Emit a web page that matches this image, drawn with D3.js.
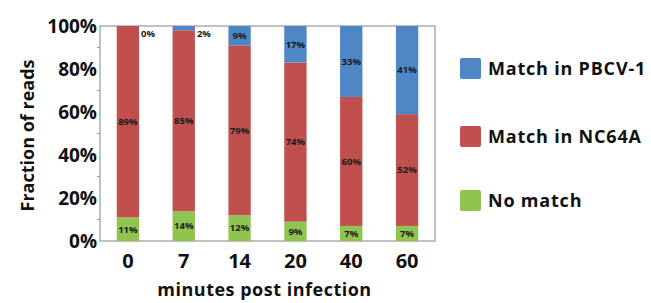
<!DOCTYPE html>
<html>
<head>
<meta charset="utf-8">
<script src="https://cdn.jsdelivr.net/npm/d3@7"></script>
<style>
  body { margin: 0; background: #fff; }
  text { font-family: "Open Sans", "DejaVu Sans", sans-serif; font-weight: bold; }
</style>
</head>
<body>
<div id="chart"></div>
<script>
// minutes post infection
var minutes = ["0", "7", "14", "20", "40", "60"];
var noMatch = [11, 14, 12, 9, 7, 7];
var matchNC64A = [89, 85, 79, 74, 60, 52];
var matchPBCV = [0, 2, 9, 17, 33, 41];
var yTicks = [0, 20, 40, 60, 80, 100];

var seriesNames = ["No match", "Match in NC64A", "Match in PBCV-1"];
var seriesKeys = ["none", "nc64a", "pbcv"];
var colors = { none: "#8fc450", nc64a: "#c0504d", pbcv: "#4f86c6" };

var width = 651, height = 303;
var margin = { left: 100, top: 26, right: 216, bottom: 62 };
var innerW = width - margin.left - margin.right;
var innerH = height - margin.top - margin.bottom;

var rows = minutes.map(function (m, i) {
    return { minute: m, none: noMatch[i], nc64a: matchNC64A[i], pbcv: matchPBCV[i] };
});

var stacked = d3.stack().keys(seriesKeys).offset(d3.stackOffsetExpand)(rows);

var svg = d3.select("#chart").append("svg")
    .attr("width", width)
    .attr("height", height);

var g = svg.append("g")
    .attr("transform", "translate(" + margin.left + "," + margin.top + ")");

var x = d3.scaleBand().domain(minutes).range([0, innerW]).paddingInner(0.6).paddingOuter(0.3);
var y = d3.scaleLinear().domain([0, 1]).range([innerH, 0]);

// plot frame
g.append("rect")
    .attr("width", innerW)
    .attr("height", innerH)
    .attr("fill", "none")
    .attr("stroke", "#9a9a9a")
    .attr("stroke-width", 1.2);

// minor ticks every 10%
g.selectAll(".minor")
    .data(d3.range(0.1, 1, 0.2))
    .enter().append("line")
    .attr("x1", -3).attr("x2", 0)
    .attr("y1", function (d) { return y(d); })
    .attr("y2", function (d) { return y(d); })
    .attr("stroke", "#9a9a9a");

var layers = g.selectAll(".layer")
    .data(stacked)
    .enter().append("g")
    .attr("fill", function (d) { return colors[d.key]; });

layers.selectAll("rect")
    .data(function (d) { return d; })
    .enter().append("rect")
    .attr("x", function (d) { return x(d.data.minute); })
    .attr("width", x.bandwidth())
    .attr("y", function (d) { return y(d[1]); })
    .attr("height", function (d) { return y(d[0]) - y(d[1]); });

// value labels
stacked.forEach(function (layer) {
    layer.forEach(function (d) {
        var v = d.data[layer.key];
        var small = (d[1] - d[0]) < 0.05;
        g.append("text")
            .attr("x", small ? x(d.data.minute) + x.bandwidth() + 2 : x(d.data.minute) + x.bandwidth() / 2)
            .attr("y", small ? y(1) + 8 : y((d[0] + d[1]) / 2))
            .attr("dy", "0.35em")
            .attr("text-anchor", small ? "start" : "middle")
            .attr("font-size", 9.5)
            .attr("fill", "#1a1a1a")
            .text(v + "%");
    });
});

// y axis labels
g.selectAll(".ytick")
    .data(yTicks)
    .enter().append("text")
    .attr("x", -3)
    .attr("y", function (d) { return y(d / 100); })
    .attr("dy", "0.36em")
    .attr("text-anchor", "end")
    .attr("font-size", 19)
    .attr("fill", "#111")
    .text(function (d) { return d + "%"; });

// x axis labels
g.selectAll(".xtick")
    .data(minutes)
    .enter().append("text")
    .attr("x", function (d) { return x(d) + x.bandwidth() / 2; })
    .attr("y", innerH + 27)
    .attr("text-anchor", "middle")
    .attr("font-size", 20)
    .attr("fill", "#111")
    .text(function (d) { return d; });

svg.append("text")
    .attr("transform", "translate(34," + (margin.top + innerH / 2 + 2) + ") rotate(-90)")
    .attr("text-anchor", "middle")
    .attr("font-size", 18)
    .attr("fill", "#111")
    .text("Fraction of reads");

svg.append("text")
    .attr("x", margin.left + innerW / 2 - 3)
    .attr("y", 296)
    .attr("text-anchor", "middle")
    .attr("font-size", 18)
    .attr("letter-spacing", 0.5)
    .attr("fill", "#111")
    .text("minutes post infection");

// legend, top to bottom
var legendY = [58, 126, 190];
var legendKeys = seriesKeys.slice().reverse();
var legendNames = seriesNames.slice().reverse();
var legend = svg.selectAll(".legend")
    .data(legendKeys)
    .enter().append("g")
    .attr("transform", function (d, i) { return "translate(460," + legendY[i] + ")"; });

legend.append("rect")
    .attr("width", 21).attr("height", 21)
    .attr("rx", 2)
    .attr("fill", function (d) { return colors[d]; });

legend.append("text")
    .attr("x", 28)
    .attr("y", 11)
    .attr("dy", "0.36em")
    .attr("font-size", 18)
    .attr("letter-spacing", 0.8)
    .attr("fill", "#111")
    .text(function (d, i) { return legendNames[i]; });
</script>
</body>
</html>
